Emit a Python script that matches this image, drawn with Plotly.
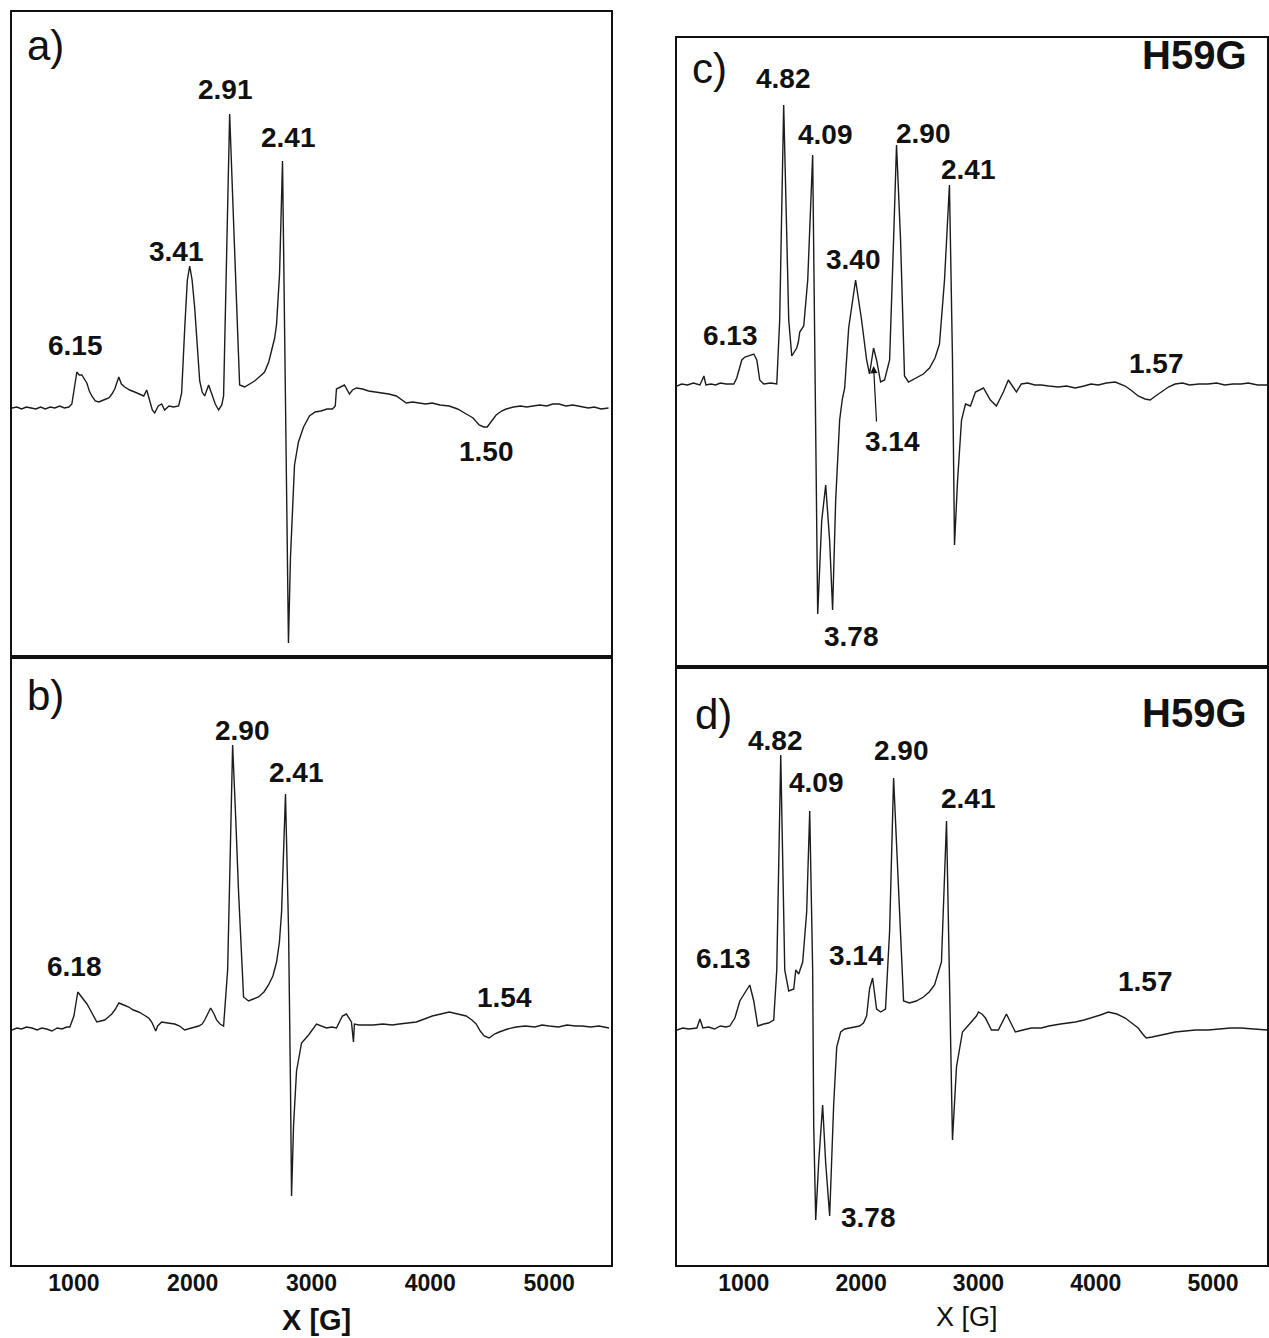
import plotly.graph_objects as go

# ---------------- data (field in G, signal in arbitrary units) ----------------
A_FIELD = [479, 520, 560, 600, 640, 680, 720, 760, 800, 840, 880, 920, 958, 983, 1025, 1045, 1067, 1090, 1109, 1130,
           1151, 1180, 1210, 1250, 1294, 1320, 1344, 1378, 1400, 1428, 1470, 1512, 1550, 1588, 1613, 1638, 1660, 1680,
           1710, 1739, 1764, 1800, 1840, 1882, 1907, 1933, 1955, 1975, 1995, 2017, 2059, 2080, 2101, 2134, 2159, 2190,
           2218, 2245, 2260, 2286, 2311, 2353, 2395, 2437, 2480, 2521, 2560, 2605, 2640, 2664, 2690, 2706, 2731, 2756,
           2773, 2798, 2806, 2823, 2857, 2890, 2933, 2983, 3030, 3080, 3130, 3176, 3200, 3210, 3240, 3277, 3319, 3345,
           3378, 3430, 3480, 3540, 3596, 3650, 3714, 3760, 3798, 3850, 3900, 3960, 4016, 4080, 4159, 4230, 4302, 4360,
           4411, 4450, 4479, 4520, 4554, 4600, 4638, 4700, 4760, 4810, 4857, 4920, 4980, 5030, 5084, 5140, 5200, 5277,
           5330, 5380, 5437, 5500]
A_SIGNAL = [0, 1, -1, 1, 0, -1, 1, -1, 1, 0, 2, 0, 1, 4, 36, 33, 33, 28, 25, 17,
            12, 7, 6, 8, 10, 14, 19, 31, 24, 21, 18, 16, 14, 12, 18, 6, -2, -5,
            2, 4, -2, 2, 1, 2, 15, 80, 128, 142, 128, 100, 27, 16, 12, 23, 15, 4,
            -2, 3, 12, 157, 294, 157, 23, 21, 24, 27, 31, 36, 46, 57, 70, 84, 134, 247,
            80, -111, -235, -149, -57, -34, -19, -8, -4, -3, -1, -1, 2, 19, 21, 23, 14, 18,
            20, 19, 17, 16, 15, 14, 12, 8, 5, 6, 5, 4, 5, 3, 2, -1, -6, -10,
            -17, -19, -19, -12, -7, -3, -1, 1, 2, 1, 2, 3, 2, 4, 4, 2, 3, 1,
            0, 1, -1, 0]

B_FIELD = [479, 520, 560, 600, 647, 690, 730, 770, 815, 860, 900, 940, 966, 1000, 1033, 1060, 1084, 1110, 1134, 1165,
           1193, 1225, 1260, 1290, 1319, 1350, 1378, 1420, 1462, 1500, 1546, 1590, 1630, 1655, 1672, 1689, 1705, 1739,
           1790, 1849, 1890, 1932, 1990, 2050, 2080, 2101, 2151, 2180, 2201, 2230, 2260, 2294, 2316, 2336, 2361, 2386,
           2428, 2470, 2510, 2554, 2600, 2638, 2675, 2706, 2730, 2748, 2781, 2795, 2807, 2823, 2832, 2849, 2874, 2916,
           2975, 3042, 3080, 3126, 3170, 3210, 3260, 3294, 3336, 3353, 3361, 3400, 3462, 3520, 3600, 3680, 3739, 3800,
           3882, 3950, 4016, 4090, 4159, 4230, 4302, 4350, 4386, 4420, 4453, 4495, 4540, 4580, 4650, 4722, 4800, 4880,
           4940, 5000, 5080, 5150, 5220, 5277, 5350, 5420, 5504]
B_SIGNAL = [-2, 0, -1, 1, 0, -2, 0, -1, -3, 0, -1, 1, 1, 12, 36, 32, 29, 24, 19, 12,
            6, 7, 8, 11, 14, 19, 25, 23, 21, 18, 16, 13, 10, 6, 2, -3, 2, 6,
            5, 4, 2, -2, 0, 2, 4, 8, 20, 14, 8, 4, 2, 58, 174, 283, 213, 136,
            31, 27, 29, 31, 36, 43, 52, 66, 86, 116, 234, 170, 97, -58, -168, -97, -43, -15,
            -7, 4, 2, 0, 1, 0, 12, 14, 6, -14, 4, 3, 3, 3, 4, 3, 4, 5,
            6, 9, 12, 14, 16, 14, 12, 8, 4, -3, -8, -10, -6, -4, -1, 1, 2, 1,
            3, 2, 1, 3, 2, 2, 1, 2, 0]

C_FIELD = [430, 470, 520, 570, 626, 660, 677, 720, 760, 800, 850, 915, 940, 983, 1010, 1043, 1085, 1111, 1136, 1170,
           1230, 1281, 1306, 1340, 1383, 1409, 1430, 1451, 1465, 1477, 1511, 1545, 1587, 1607, 1630, 1664, 1698, 1732,
           1757, 1783, 1817, 1840, 1860, 1894, 1953, 2004, 2047, 2072, 2106, 2132, 2166, 2200, 2243, 2277, 2302, 2336,
           2370, 2404, 2472, 2530, 2583, 2630, 2668, 2711, 2753, 2779, 2796, 2822, 2856, 2890, 2932, 2975, 3043, 3102,
           3153, 3213, 3255, 3290, 3324, 3366, 3420, 3480, 3536, 3600, 3680, 3750, 3826, 3900, 3960, 4021, 4090, 4166,
           4251, 4310, 4362, 4420, 4464, 4510, 4557, 4620, 4677, 4740, 4800, 4880, 4958, 5030, 5100, 5170, 5239, 5300,
           5380, 5460]
C_SIGNAL = [-2, 0, -1, 1, -1, 8, -1, 0, -1, 1, 0, 0, 6, 24, 27, 28, 30, 24, 4, 0,
            1, 0, 64, 279, 64, 28, 32, 36, 42, 52, 58, 104, 229, -16, -230, -137, -101, -157,
            -226, -117, -36, -15, -4, 56, 104, 64, 24, 10, 36, 24, 2, 4, 24, 145, 239, 145,
            8, 2, 6, 10, 16, 26, 40, 104, 199, 24, -161, -97, -36, -20, -22, -8, -4, -16,
            -22, -8, 4, -2, -8, 0, 1, -1, -1, -2, -3, -2, -4, -2, 0, -1, 1, 2,
            -2, -7, -12, -15, -16, -12, -8, -3, 0, 1, -1, 0, 0, 1, -1, 0, 0, 1,
            -1, -1]

D_FIELD = [430, 480, 530, 600, 626, 651, 700, 750, 800, 850, 881, 924, 966, 1009, 1051, 1085, 1119, 1170, 1210, 1255,
           1281, 1315, 1349, 1383, 1426, 1443, 1468, 1502, 1536, 1562, 1587, 1596, 1613, 1638, 1672, 1698, 1732, 1766,
           1792, 1826, 1860, 1902, 1950, 1987, 2020, 2047, 2072, 2098, 2132, 2166, 2208, 2243, 2277, 2319, 2362, 2413,
           2470, 2532, 2580, 2626, 2685, 2728, 2753, 2779, 2813, 2864, 2924, 2983, 3000, 3030, 3060, 3111, 3170, 3239,
           3281, 3315, 3380, 3450, 3536, 3600, 3700, 3826, 3900, 3962, 4040, 4107, 4180, 4251, 4310, 4362, 4400, 4430,
           4480, 4532, 4600, 4677, 4760, 4850, 4958, 5050, 5150, 5239, 5350, 5460]
D_SIGNAL = [-2, 0, -1, 0, 9, 0, 1, -1, 2, 1, 2, 10, 27, 35, 43, 27, 2, 4, 5, 8,
            58, 273, 58, 37, 39, 58, 54, 66, 116, 217, 58, -97, -192, -135, -77, -135, -188, -77,
            -19, -4, -1, 0, 1, 2, 5, 12, 39, 50, 19, 16, 19, 97, 250, 136, 27, 25,
            27, 31, 36, 43, 66, 207, 58, -112, -39, -4, 4, 12, 16, 14, 10, -2, -2, 14,
            4, -4, -2, 0, 0, 2, 4, 6, 8, 10, 13, 16, 14, 10, 5, 0, -6, -10,
            -9, -8, -6, -4, -3, -2, -2, -1, 0, 0, -1, -2]

TICK_VALUES = [1000, 2000, 3000, 4000, 5000]
PANEL_LETTERS = ["a)", "b)", "c)", "d)"]
SAMPLE_NAME = "H59G"
X_TITLE = "X [G]"

# peak g-value labels: (text, field, signal)
A_LABELS = [("6.15", 1017, 63), ("3.41", 1865, 157), ("2.91", 2277, 319), ("2.41", 2807, 271), ("1.50", 4470, -43)]
B_LABELS = [("6.18", 1008, 62), ("2.90", 2416, 298), ("2.41", 2874, 256), ("1.54", 4626, 31)]
C_LABELS = [("4.82", 1340, 306), ("4.09", 1698, 250), ("2.90", 2532, 251), ("2.41", 2915, 215),
            ("3.40", 1932, 125), ("6.13", 885, 49), ("3.78", 1915, -252), ("1.57", 4519, 21)]
D_LABELS = [("4.82", 1268, 287), ("4.09", 1621, 245), ("2.90", 2345, 277), ("2.41", 2915, 229),
            ("6.13", 826, 69), ("3.14", 1958, 72), ("3.78", 2060, -189), ("1.57", 4426, 46)]

# ---------------- figure ----------------
W, H = 1269, 1338
FONT = "Liberation Sans, Arial, sans-serif"
LINE = dict(color="#1c1c1c", width=1.4)

fig = go.Figure()
series = [("x", "y", A_FIELD, A_SIGNAL), ("x2", "y2", B_FIELD, B_SIGNAL),
          ("x3", "y3", C_FIELD, C_SIGNAL), ("x4", "y4", D_FIELD, D_SIGNAL)]
for xa, ya, fx, sy in series:
    fig.add_trace(go.Scatter(x=fx, y=sy, mode="lines", line=LINE, xaxis=xa, yaxis=ya,
                             showlegend=False, hoverinfo="skip"))

left_dom = [12 / W, 612 / W]
right_dom = [678 / W, 1.0]
def ydom(top, bot):
    return [1 - bot / H, 1 - top / H]

frame = dict(showline=True, mirror=True, linecolor="#111", linewidth=1.5, showgrid=False,
             zeroline=False, ticks="", fixedrange=True)
noticks = dict(showticklabels=False)
tickax = dict(tickmode="array", tickvals=TICK_VALUES,
              ticktext=["<b>%d</b>" % v for v in TICK_VALUES],
              tickfont=dict(family=FONT, size=23, color="#111"),
              ticklabelstandoff=-3)

fig.update_layout(
    width=W, height=H, margin=dict(l=0, r=0, t=0, b=0), autosize=False,
    paper_bgcolor="white", plot_bgcolor="white",
    xaxis=dict(domain=left_dom, range=[479, 5521], anchor="y", **frame, **noticks),
    yaxis=dict(domain=ydom(12, 657), range=[-249, 396], anchor="x", **frame, **noticks),
    xaxis2=dict(domain=left_dom, range=[479, 5521], anchor="y2", **{**frame, **tickax}),
    yaxis2=dict(domain=ydom(657, 1265), range=[-237, 371], anchor="x2", **frame, **noticks),
    xaxis3=dict(domain=right_dom, range=[430, 5460], anchor="y3", **frame, **noticks),
    yaxis3=dict(domain=ydom(38, 667), range=[-283, 346], anchor="x3", **frame, **noticks),
    xaxis4=dict(domain=right_dom, range=[430, 5460], anchor="y4", **{**frame, **tickax}),
    yaxis4=dict(domain=ydom(667, 1265), range=[-237, 361], anchor="x4", **frame, **noticks),
)

ann = []
def peak_labels(labels, xa, ya):
    for text, fx, sy in labels:
        ann.append(dict(text="<b>%s</b>" % text, x=fx, y=sy, xref=xa, yref=ya, showarrow=False,
                        font=dict(family=FONT, size=28, color="#111"), xanchor="center", yanchor="middle"))

peak_labels(A_LABELS, "x", "y")
peak_labels(B_LABELS, "x2", "y2")
peak_labels(C_LABELS, "x3", "y3")
peak_labels(D_LABELS, "x4", "y4")

# panel letters
for letter, xa, ya, fx, sy in [(PANEL_LETTERS[0], "x", "y", 588, 363), (PANEL_LETTERS[1], "x2", "y2", 588, 333),
                               (PANEL_LETTERS[2], "x3", "y3", 541, 316), (PANEL_LETTERS[3], "x4", "y4", 566, 313)]:
    ann.append(dict(text=letter, x=fx, y=sy, xref=xa, yref=ya, showarrow=False, xanchor="left",
                    yanchor="middle", font=dict(family=FONT, size=42, color="#111")))

# sample name
for xa, ya, sy in [("x3", "y3", 329), ("x4", "y4", 315)]:
    ann.append(dict(text="<b>%s</b>" % SAMPLE_NAME, x=5310, y=sy, xref=xa, yref=ya, showarrow=False,
                    xanchor="right", yanchor="middle", font=dict(family=FONT, size=40, color="#111")))

# 3.14 label with arrow (panel c)
ann.append(dict(text="<b>3.14</b>", x=2264, y=-57, xref="x3", yref="y3", showarrow=False,
                xanchor="center", yanchor="middle", font=dict(family=FONT, size=28, color="#111")))
ann.append(dict(text="", x=2106, y=18, xref="x3", yref="y3", ax=2132, ay=-39, axref="x3", ayref="y3",
                showarrow=True, arrowhead=2, arrowsize=1.2, arrowwidth=1.2, arrowcolor="#111"))

# axis titles
ann.append(dict(text="<b>%s</b>" % X_TITLE, x=317 / W, y=1 - 1320 / H, xref="paper", yref="paper",
                xanchor="center", yanchor="middle", showarrow=False,
                font=dict(family=FONT, size=29, color="#111")))
ann.append(dict(text=X_TITLE, x=969 / W, y=1 - 1317 / H, xref="paper", yref="paper",
                xanchor="center", yanchor="middle", showarrow=False,
                font=dict(family=FONT, size=27, color="#111")))

fig.update_layout(annotations=ann)
fig.write_html("out.html")
